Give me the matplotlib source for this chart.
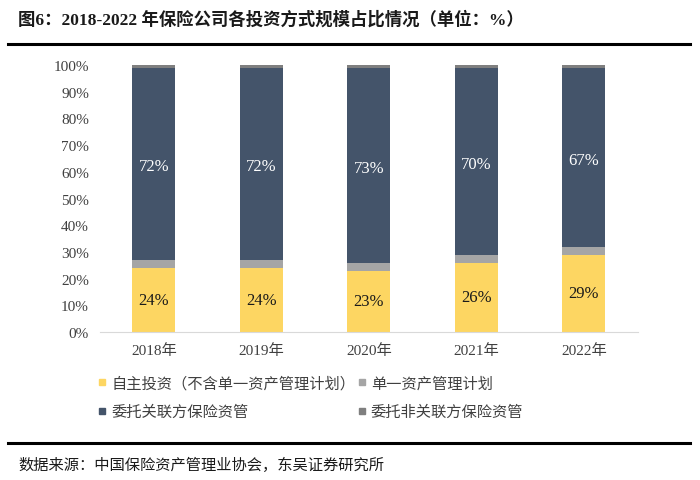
import numpy as np
import matplotlib.pyplot as plt
from matplotlib.lines import Line2D

plt.rcParams['font.family'] = ['Liberation Serif', 'Noto Sans CJK SC']

years = ['2018年', '2019年', '2020年', '2021年', '2022年']
self_inv = [24, 24, 23, 26, 29]
single_plan = [3, 3, 3, 3, 3]
related = [72, 72, 73, 70, 67]
unrelated = [1, 1, 1, 1, 1]

names = ['自主投资（不含单一资产管理计划）', '单一资产管理计划',
         '委托关联方保险资管', '委托非关联方保险资管']
colors = ['#FDD662', '#A5A5A5', '#44546A', '#7F7F7F']

fig = plt.figure(figsize=(7, 4.81), dpi=100)
ax = fig.add_axes([0.143, 0.3077, 0.768, 0.555])

x = np.arange(len(years))
w = 0.4
series = [self_inv, single_plan, related, unrelated]
bottom = np.zeros(len(years))
for vals, c in zip(series, colors):
    ax.bar(x, vals, w, bottom=bottom, color=c, zorder=2)
    bottom += np.array(vals)

# value labels
for i in range(len(years)):
    ax.text(x[i], self_inv[i] / 2, f'{self_inv[i]}%', ha='center', va='center',
            fontsize=12, color='#1a1a1a')
    mid = self_inv[i] + single_plan[i] + related[i] / 2
    ax.text(x[i], mid - 1, f'{related[i]}%', ha='center', va='center',
            fontsize=12, color='white')

ax.set_xlim(-0.5, 4.5)
ax.set_ylim(0, 100)
ax.set_yticks(range(0, 101, 10))
ax.set_yticklabels([f'{v}%' for v in range(0, 101, 10)])
ax.set_xticks(x)
ax.set_xticklabels(years)
ax.tick_params(axis='both', length=0, labelsize=11, colors='#404040')
ax.tick_params(axis='x', pad=8)
ax.tick_params(axis='y', pad=8)
for s in ['top', 'right', 'left']:
    ax.spines[s].set_visible(False)
ax.spines['bottom'].set_color('#D9D9D9')

handles = [Line2D([], [], marker='s', linestyle='none', markersize=5,
                  markerfacecolor=c, markeredgecolor=c) for c in colors]
order = [0, 2, 1, 3]
fig.legend([handles[k] for k in order], [names[k] for k in order], ncol=2,
           loc='upper left', bbox_to_anchor=(0.12, 0.248), frameon=False,
           handlelength=0.6, handletextpad=0.3, columnspacing=0.1,
           labelspacing=0.75, prop={'family': 'Noto Sans CJK SC', 'size': 11},
           labelcolor='#404040')

fig.text(0.026, 0.958, '图6：2018-2022 年保险公司各投资方式规模占比情况（单位：%）',
         fontsize=12.5, fontweight='bold', va='center', color='#1a1a1a')
fig.add_artist(Line2D([0.012, 0.986], [0.907, 0.907], color='black', lw=2.2))
fig.add_artist(Line2D([0.012, 0.986], [0.077, 0.077], color='black', lw=2.2))
fig.text(0.026, 0.033, '数据来源：中国保险资产管理业协会，东吴证券研究所',
         fontsize=11, va='center', color='#1a1a1a',
         family=['Noto Sans CJK SC'])

fig.savefig('out.png', dpi=100)
